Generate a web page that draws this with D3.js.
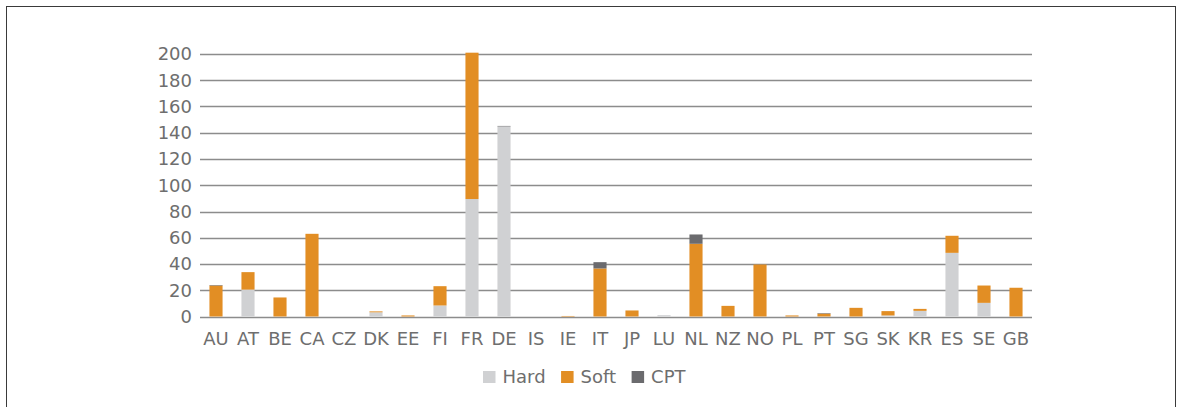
<!DOCTYPE html>
<html>
<head>
<meta charset="utf-8">
<script src="https://cdn.jsdelivr.net/npm/d3@7"></script>
<style>
  html, body { margin: 0; padding: 0; background: #fff; }
  svg { display: block; }
  text { font-family: "DejaVu Sans", Verdana, sans-serif; fill: #6e6e6e; }
</style>
</head>
<body>
<svg id="chart" width="1179" height="407"></svg>
<script>
const categories = ["AU","AT","BE","CA","CZ","DK","EE","FI","FR","DE","IS","IE","IT","JP","LU","NL","NZ","NO","PL","PT","SG","SK","KR","ES","SE","GB"];
const hard = [0, 20.5, 0, 0, 0, 3.2, 0, 8.4, 89.5, 144.8, 0, 0, 0, 0, 1, 0, 0, 0, 0, 0, 0, 0.8, 4.3, 48.5, 10.4, 0];
const soft = [23.6, 13.3, 14.5, 63, 0, 0.7, 0.8, 14.7, 111.5, 0, 0, 0.4, 36.6, 4.6, 0, 55.4, 8.1, 39.6, 0.8, 2.2, 6.6, 3.3, 1.5, 13, 13.2, 21.9];
const cpt  = [0.4, 0, 0, 0, 0, 0, 0, 0, 0, 0.4, 0, 0, 4.8, 0, 0, 7.1, 0, 0, 0, 0.4, 0, 0, 0, 0, 0, 0];
const yTicks = [0, 20, 40, 60, 80, 100, 120, 140, 160, 180, 200];
const seriesNames = ["Hard", "Soft", "CPT"];
const colors = { Hard: "#d0d1d3", Soft: "#e28e24", CPT: "#6b6b6e" };

const svg = d3.select("#chart");

// outer frame
svg.append("rect").attr("x", 6.5).attr("y", 6.5).attr("width", 1169).attr("height", 420)
  .attr("fill", "none").attr("stroke", "#3a3a3a").attr("stroke-width", 1);

const x = d3.scaleBand().domain(categories).range([200, 1032]).paddingInner(0.59).paddingOuter(0.295);
const y = d3.scaleLinear().domain([0, 200]).range([316.5, 54]);

// gridlines
svg.append("g").selectAll("line").data(yTicks).join("line")
  .attr("x1", 200).attr("x2", 1032)
  .attr("y1", d => Math.round(y(d)) + 0.5).attr("y2", d => Math.round(y(d)) + 0.5)
  .attr("stroke", "#8c8c8c").attr("stroke-width", 1.3);

// y axis labels
const yAxis = d3.axisLeft(y).tickValues(yTicks).tickSize(0).tickPadding(8);
const gy = svg.append("g").attr("transform", "translate(200,0)").call(yAxis);
gy.select(".domain").remove();
gy.selectAll("text").style("font-size", "18px").attr("fill", "#6e6e6e")
  .style("font-family", "'DejaVu Sans', Verdana, sans-serif");

// x axis labels
const xAxis = d3.axisBottom(x).tickSize(0).tickPadding(16);
const gx = svg.append("g").attr("transform", "translate(0,316.5)").call(xAxis);
gx.select(".domain").remove();
gx.selectAll("text").style("font-size", "18px").attr("fill", "#6e6e6e")
  .style("font-family", "'DejaVu Sans', Verdana, sans-serif");

// stacked data
const rows = categories.map((c, i) => ({ cat: c, Hard: hard[i], Soft: soft[i], CPT: cpt[i] }));
const stack = d3.stack().keys(seriesNames)(rows);

svg.append("g").selectAll("g").data(stack).join("g")
  .attr("fill", d => colors[d.key])
  .selectAll("rect").data(d => d).join("rect")
  .attr("x", d => x(d.data.cat))
  .attr("width", x.bandwidth())
  .attr("y", d => y(d[1]))
  .attr("height", d => Math.max(0, y(d[0]) - y(d[1])));

// legend
const lg = svg.append("g");
let lx = 483;
seriesNames.forEach(name => {
  lg.append("rect").attr("x", lx).attr("y", 371).attr("width", 12.5).attr("height", 12)
    .attr("fill", colors[name]);
  const t = lg.append("text").attr("x", lx + 19.5).attr("y", 383)
    .style("font-size", "18px").text(name);
  const w = t.node().getComputedTextLength();
  lx = lx + 19.5 + w + 15.5;
});
</script>
</body>
</html>
